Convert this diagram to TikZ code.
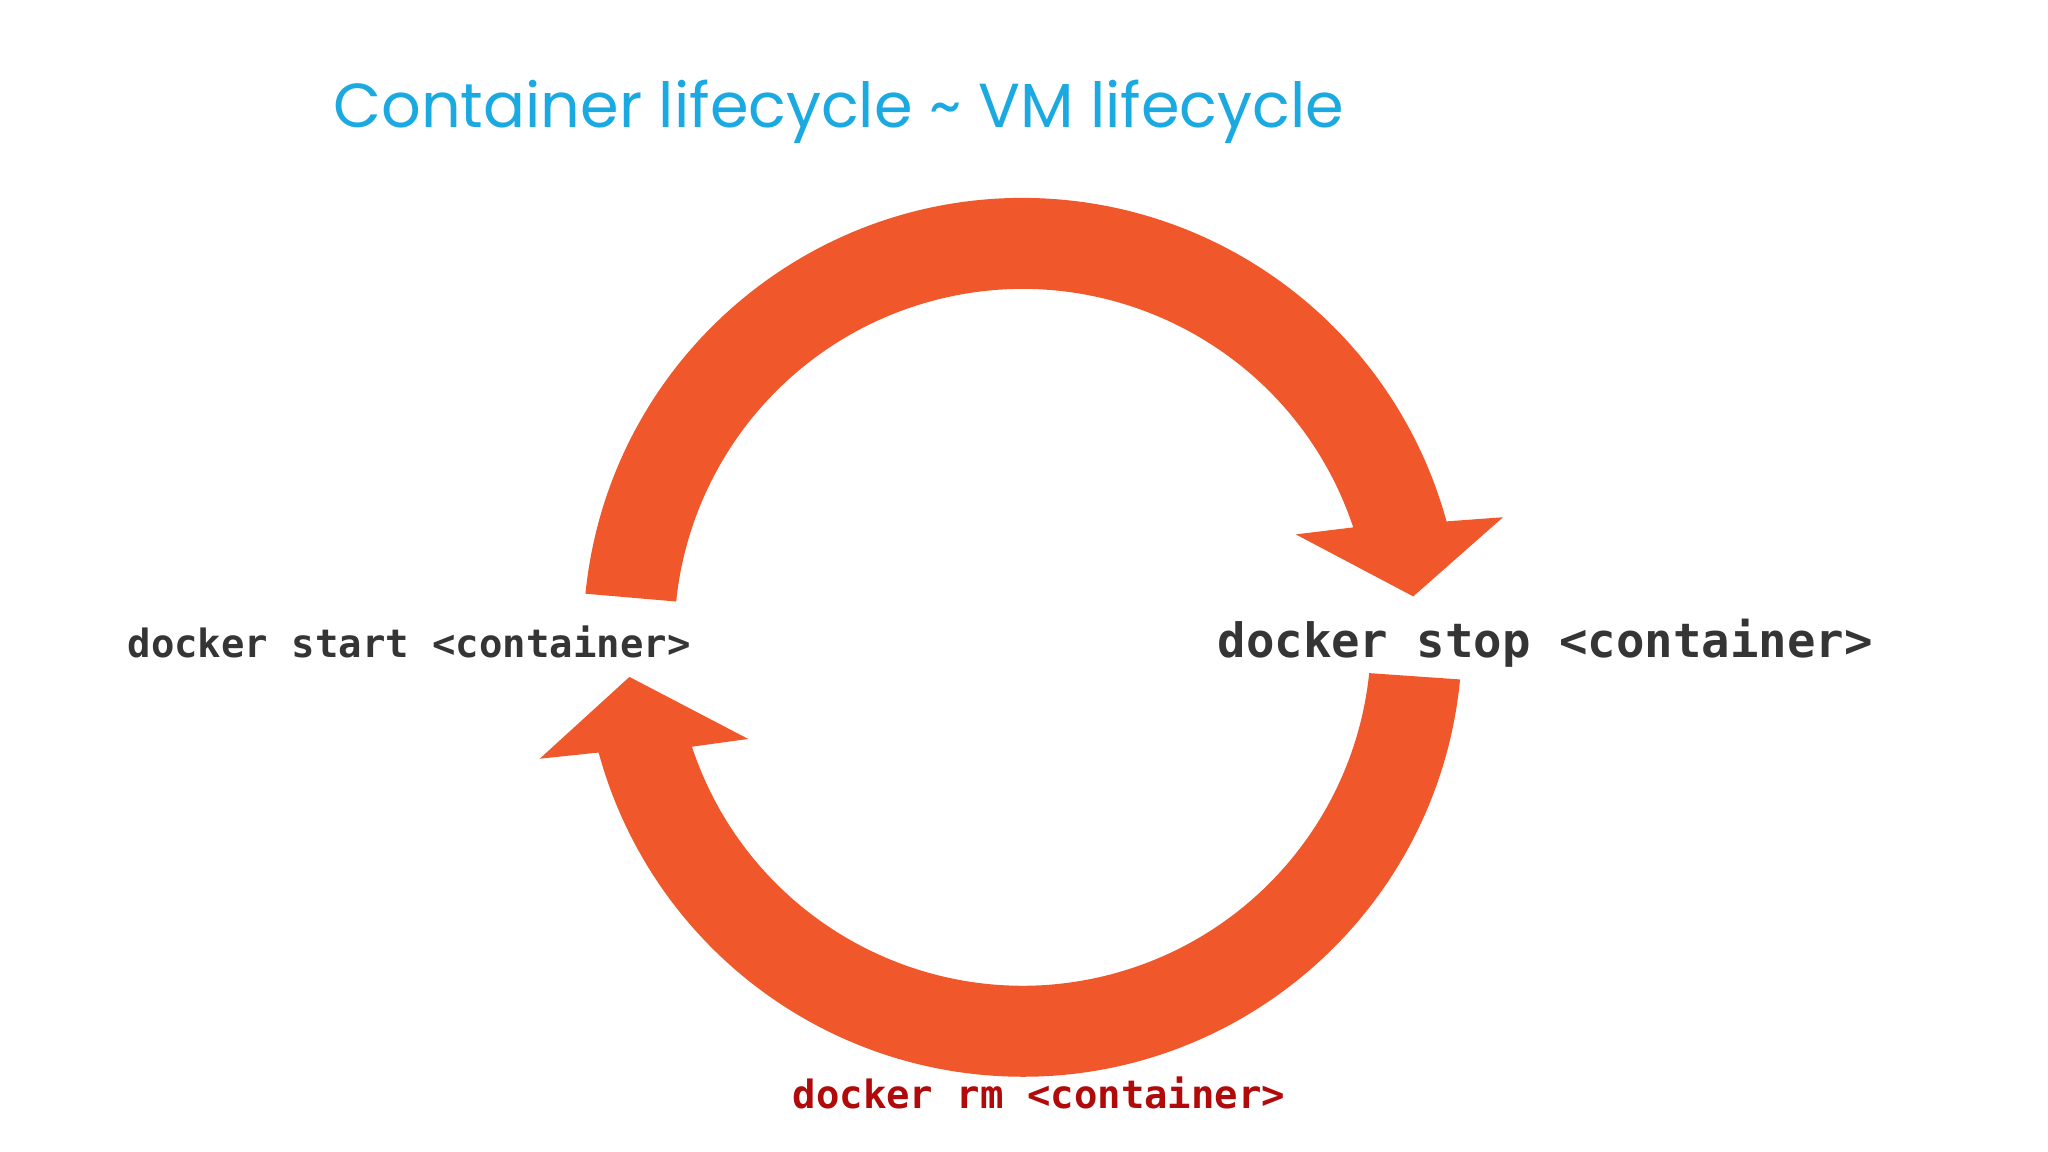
\documentclass[tikz,border=0pt]{standalone}
\usepackage{fontspec}
\usetikzlibrary{calc}
\newfontfamily\titlefont{Poppins}
\newfontfamily\monofont{DejaVu Sans Mono}
\definecolor{arc}{HTML}{F0582B}
\definecolor{ttl}{HTML}{1AA9E1}
\definecolor{txt}{HTML}{353535}
\definecolor{rmred}{HTML}{B00A0A}
\tikzset{band/.style={fill=arc},
cmd/.style={font=\monofont\bfseries, text=txt, inner sep=0pt, anchor=base west}}
\begin{document}
\begin{tikzpicture}
\useasboundingbox (0,0) rectangle (15.52,8.73);
\coordinate (c) at (7.75,3.90);
% top band
\fill[band] ($(c)+(174.3:3.33)$) arc[start angle=174.3,end angle=15.3,radius=3.33]
  -- (11.39,4.81) -- (10.71,4.21) -- (9.82,4.68)
  -- ($(c)+(18.4:2.64)$) arc[start angle=18.4,end angle=174.1,radius=2.64] -- cycle;
% bottom band
\fill[band] ($(c)+(-5.5:3.33)$) arc[start angle=-5.5,end angle=-164.8,radius=3.33]
  -- (4.09,2.98) -- (4.77,3.60) -- (5.67,3.13)
  -- ($(c)+(-161.7:2.64)$) arc[start angle=-161.7,end angle=-5.9,radius=2.64] -- cycle;
\node[anchor=base west, inner sep=0pt, text=ttl, font=\titlefont\fontsize{13.4}{16}\selectfont] (title) at (2.52,7.76) {Container lifecycle \textasciitilde{} VM lifecycle};
\node[cmd, font=\monofont\bfseries\fontsize{8.4}{10}\selectfont] (start) at (0.96,3.75) {docker start <container>};
\node[cmd, font=\monofont\bfseries\fontsize{10.2}{12}\selectfont] (stop) at (9.22,3.75) {docker stop <container>};
\node[cmd, text=rmred, font=\monofont\bfseries\fontsize{8.4}{10}\selectfont] (rm) at (6.00,0.33) {docker rm <container>};
\end{tikzpicture}
\end{document}
